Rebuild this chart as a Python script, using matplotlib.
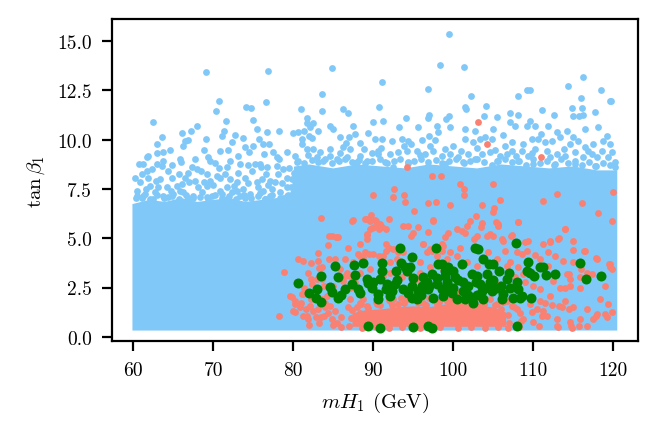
import numpy as np
import matplotlib
matplotlib.use("Agg")
import matplotlib.pyplot as plt

plt.rcParams.update({
    "font.family": "serif",
    "font.serif": ["cmr10", "DejaVu Serif"],
    "mathtext.fontset": "cm",
    "axes.formatter.use_mathtext": True,
    "font.size": 7,
})

BLUE = "#80c8f7"
SALMON = "salmon"
GREEN = "green"

# ---- saturated core of the blue cloud (envelope in data units) ----
blue_core_x = [60.0, 60.0, 62, 64, 66, 68, 70, 72, 74, 76, 78, 79.8, 80.2, 82, 85, 88, 91, 94, 97,
               100, 103, 106, 109, 112, 115, 118, 120.4, 120.4]
blue_core_y = [0.36, 6.7, 6.9, 6.8, 7.0, 6.8, 6.9, 7.0, 6.8, 6.9, 7.0, 7.0, 8.6, 8.7, 8.5, 8.7, 8.6,
               8.5, 8.7, 8.6, 8.5, 8.7, 8.6, 8.5, 8.6, 8.4, 8.4, 0.36]

# ---- sparse blue points (upper part) ----
blue_high = [
    (99.48, 15.34), (69.05, 13.41), (76.87, 13.47), (84.86, 13.62), (98.33, 13.77), (101.31, 13.67),
    (91.15, 12.91), (116.18, 13.16), (114.4, 12.70), (96.85, 12.55), (109.17, 12.50), (109.64, 12.50),
    (118.48, 12.50), (83.59, 12.30), (108.15, 12.20), (102.24, 12.20), (115.93, 12.10), (119.58, 11.98),
    (119.75, 11.94), (70.67, 11.94), (76.57, 11.89), (104.11, 11.69), (90.77, 11.64), (74.15, 11.64),
    (74.66, 11.59), (70.33, 11.44), (81.0, 11.54), (83.59, 11.44), (86.26, 11.54), (86.9, 11.33),
    (101.48, 11.64), (101.65, 11.54), (114.87, 11.59), (116.1, 11.59), (111.04, 11.49), (117.71, 11.38),
    (107.13, 11.33), (103.86, 11.18), (112.57, 11.23), (108.15, 11.23), (114.95, 11.18), (115.72, 11.18),
    (116.18, 11.23), (96.93, 11.23), (96.85, 11.08), (99.48, 11.18), (99.06, 11.03), (81.76, 11.08),
    (71.56, 10.93), (74.96, 10.99), (62.51, 10.88), (81.76, 10.83), (82.52, 10.83), (89.96, 10.88),
    (91.19, 10.93), (94.08, 11.08), (105.43, 11.13), (107.13, 10.88), (109.6, 10.96),
]
blue_band_left = [
    (63.63, 10.16), (66.13, 10.33), (67.21, 10.43), (68.01, 10.71), (69.13, 10.01), (71.30, 10.43),
    (71.09, 10.20), (72.67, 10.25), (73.76, 10.06), (75.51, 10.52), (76.72, 10.38), (78.26, 10.43),
    (75.72, 10.01), (76.21, 9.78), (76.96, 9.78), (80.01, 10.33), (80.55, 10.38), (81.30, 10.43),
    (81.09, 10.01), (81.92, 10.20), (82.30, 10.06), (82.13, 10.62), (83.13, 10.45), (84.59, 10.71),
    (85.0, 10.54), (85.84, 10.11), (87.0, 10.15), (87.71, 10.28), (88.34, 9.81), (89.38, 10.33),
    (90.21, 10.03), (87.51, 10.71),
    (66.46, 9.94), (66.88, 9.98), (66.26, 9.69), (64.59, 9.47), (63.76, 9.35), (62.92, 9.30),
    (61.88, 9.18), (61.67, 9.10), (70.84, 9.44), (71.88, 9.47), (73.96, 9.64), (73.13, 9.18),
    (74.46, 9.37), (76.38, 9.27), (77.42, 9.39), (77.92, 9.10), (79.17, 9.35), (80.21, 9.18),
    (81.05, 9.78), (81.67, 9.52), (82.42, 9.52), (84.59, 9.52), (86.26, 9.61), (87.09, 9.52),
    (88.34, 9.18), (89.80, 9.30), (90.63, 9.27),
    (61.26, 8.79), (60.76, 8.76), (62.92, 8.76), (63.76, 8.93), (63.55, 8.68), (65.84, 9.01),
    (65.92, 8.85), (67.71, 9.03), (69.30, 9.10), (69.59, 8.90), (67.38, 8.63), (68.46, 8.42),
    (69.17, 8.25), (70.76, 8.56), (71.67, 8.63), (72.09, 8.93), (73.34, 8.76), (74.38, 8.69),
    (75.26, 8.76), (75.84, 8.79), (76.67, 8.63), (77.92, 8.68), (78.76, 8.51), (79.46, 8.56),
    (80.42, 8.85), (82.92, 9.10), (83.76, 8.93), (84.59, 9.18), (85.42, 9.01), (86.67, 9.10),
    (87.92, 8.85), (89.17, 8.93),
    (61.05, 8.25), (61.88, 8.08), (61.67, 8.42), (63.34, 8.0), (64.80, 8.08), (65.76, 8.25),
    (66.46, 8.08), (67.0, 7.83), (67.71, 7.92), (70.42, 8.17), (70.84, 8.08), (72.09, 8.0),
    (72.92, 7.83), (73.96, 8.08), (75.42, 7.83), (76.05, 8.0), (76.59, 8.25), (77.71, 7.83),
    (78.13, 8.25), (62.09, 7.66), (63.13, 7.58), (64.17, 7.61), (65.42, 7.66), (69.17, 7.66),
    (70.0, 7.71), (71.67, 7.58), (73.76, 7.49), (75.63, 7.58), (77.30, 7.49), (79.17, 7.58),
    (60.42, 7.41), (60.84, 7.83), (60.2, 8.08), (64.38, 8.42), (67.92, 8.51), (69.59, 7.92),
    (71.46, 8.25), (74.80, 8.42), (77.09, 7.92), (79.17, 8.08), (65.84, 7.41), (68.13, 7.58),
    (72.92, 7.41), (76.26, 7.41),
    (60.42, 7.15), (61.46, 7.24), (62.71, 7.32), (63.76, 7.15), (65.01, 7.24), (66.26, 7.32),
    (67.51, 7.15), (68.55, 7.32), (69.80, 7.15), (71.05, 7.24), (72.30, 7.32), (73.34, 7.15),
    (74.59, 7.24), (75.84, 7.27), (77.09, 7.15), (78.34, 7.32), (79.38, 7.20),
    (61.05, 7.03), (62.51, 7.0), (64.38, 7.08), (66.88, 7.03), (69.17, 7.08), (71.67, 7.0),
    (73.96, 7.03), (76.46, 7.0), (78.76, 7.03),
    (60.3, 7.05), (61.2, 7.15), (62.1, 7.0), (63.0, 7.2), (63.9, 7.05), (64.8, 7.15), (65.7, 7.0),
    (66.6, 7.2), (67.5, 7.05), (68.4, 7.1), (69.3, 7.0), (70.2, 7.2), (71.1, 7.05), (72.0, 7.15),
    (72.9, 7.0), (73.8, 7.2), (74.7, 7.05), (75.6, 7.15), (76.5, 7.0), (77.4, 7.2), (78.3, 7.05),
    (79.2, 7.15), (80.0, 7.3), (79.7, 7.6), (79.9, 8.0), (80.1, 8.3),
    (61.6, 7.5), (62.8, 7.9), (64.7, 7.4), (66.1, 7.75), (68.8, 7.85), (70.9, 7.4), (72.6, 7.65),
    (74.4, 7.8), (76.9, 7.7), (78.6, 7.8), (62.4, 8.5), (66.8, 8.3), (70.2, 8.8), (73.1, 8.3),
    (76.0, 8.6), (78.2, 9.0), (64.9, 8.7), (68.9, 9.5), (72.4, 9.9), (75.0, 9.7), (63.0, 9.8),
]
blue_band_right = [
    (93.21, 10.65), (95.54, 10.65), (98.0, 10.71), (99.59, 10.62), (98.04, 10.37), (101.46, 10.54),
    (102.71, 10.45), (105.0, 10.54), (107.71, 10.71), (109.17, 10.71), (110.21, 10.71), (111.88, 10.71),
    (114.17, 10.45), (116.46, 10.54), (118.13, 10.62),
    (91.04, 10.03), (92.29, 9.94), (93.54, 10.03), (94.38, 9.94), (94.71, 9.78), (96.04, 9.98),
    (97.09, 9.69), (97.71, 9.98), (100.0, 9.69), (101.46, 10.03), (102.5, 9.86), (103.34, 10.03),
    (103.96, 10.11), (104.79, 10.03), (106.46, 9.69), (107.29, 9.86), (108.75, 9.78), (109.79, 10.03),
    (110.63, 10.03), (111.46, 9.86), (112.29, 9.94), (113.34, 10.11), (112.92, 10.37), (114.59, 9.78),
    (115.63, 9.94), (116.46, 9.61), (117.5, 9.78), (118.75, 9.94), (119.59, 9.78),
    (90.63, 9.44), (92.09, 9.27), (93.13, 9.35), (94.17, 9.44), (95.42, 9.44), (96.46, 9.27),
    (97.5, 9.44), (98.54, 9.18), (99.59, 9.27), (100.63, 9.10), (101.88, 9.27), (102.71, 9.01),
    (103.54, 9.27), (104.59, 9.35), (105.84, 9.18), (106.67, 9.27), (107.29, 9.44), (108.54, 9.44),
    (109.38, 9.18), (110.21, 9.52), (111.67, 9.44), (112.92, 9.27), (113.96, 9.18), (115.21, 9.35),
    (116.25, 9.10), (117.29, 9.27), (118.54, 9.44), (119.38, 9.10), (120.21, 8.85),
    (91.46, 8.85), (92.5, 8.59), (94.38, 8.85), (96.88, 8.68), (98.96, 8.76), (101.25, 8.85),
    (105.42, 8.93), (108.13, 8.93), (110.0, 8.76), (112.71, 8.76), (115.21, 8.76), (117.71, 8.68),
    (80.6, 8.9), (81.4, 8.8), (82.3, 8.95), (83.1, 8.85), (84.0, 9.0), (84.8, 8.8), (85.7, 8.9),
    (86.5, 9.0), (87.3, 8.85), (88.2, 8.95), (89.0, 8.8), (89.9, 8.9), (90.8, 9.0), (91.7, 8.8),
    (92.6, 8.9), (93.4, 9.0), (94.3, 8.8), (95.1, 8.9), (96.0, 9.0), (96.9, 8.85), (97.8, 8.95),
    (98.6, 8.8), (99.5, 8.9), (100.4, 9.0), (101.3, 8.8), (102.1, 8.9), (103.0, 9.0), (103.9, 8.85),
    (104.8, 8.7), (105.6, 8.9), (106.5, 9.0), (107.4, 8.85), (108.2, 8.9), (109.1, 8.7), (110.0, 9.0),
    (110.9, 8.8), (111.7, 8.9), (112.6, 8.7), (113.5, 9.0), (114.3, 8.8), (115.2, 8.9), (116.1, 8.7),
    (117.0, 8.85), (117.8, 8.65), (118.7, 8.8), (119.6, 8.7), (120.2, 8.6),
    (81.8, 9.2), (83.4, 9.35), (85.9, 9.3), (88.8, 9.55), (91.0, 9.6), (93.8, 9.7), (95.9, 9.2),
    (99.0, 9.55), (101.0, 9.45), (103.0, 9.6), (105.2, 9.5), (107.9, 9.15), (109.9, 9.3), (112.1, 9.1),
    (113.9, 9.55), (116.9, 9.45), (118.0, 9.1), (119.9, 9.35), (86.6, 9.85), (97.0, 10.2),
    (106.2, 10.25), (111.0, 10.3), (115.0, 10.15), (119.2, 10.2),
]

# ---- dense core of the salmon cloud ----
salmon_core_x = [87.5, 87.5, 89, 91, 93, 95, 97, 99, 101, 103, 105, 106.5, 106.5]
salmon_core_y = [0.55, 1.15, 1.3, 1.35, 1.45, 1.5, 1.45, 1.6, 1.65, 1.55, 1.45, 1.2, 0.55]

salmon_pts = [
    (103.09, 10.88), (104.25, 9.78), (110.92, 9.10), (94.25, 8.59), (97.4, 8.14), (98.5, 8.14),
    (100.9, 7.75), (105.0, 7.75), (101.4, 7.48), (101.4, 7.19), (92.6, 7.5), (92.5, 7.09), (93.9, 7.19),
    (94.0, 6.85), (97.9, 6.85), (96.9, 6.78), (113.0, 7.24), (120.0, 7.37), (105.9, 6.93), (111.25, 6.87),
    (116.05, 6.8), (83.51, 6.05), (90.0, 7.19), (89.67, 6.17), (87.5, 5.92), (89.17, 5.98), (90.21, 5.92),
    (89.8, 5.5), (84.8, 5.1), (85.6, 5.04), (89.26, 5.16), (90.76, 5.67),
    (87.28, 5.89), (88.98, 6.0), (89.62, 5.89), (90.05, 5.55), (90.68, 5.46), (90.9, 5.72), (91.96, 6.0),
    (95.15, 6.39), (97.48, 5.94), (99.61, 6.68), (103.65, 6.68), (105.13, 6.51), (104.92, 6.31),
    (102.8, 6.14), (101.73, 5.63), (101.1, 5.38), (102.58, 4.96), (103.43, 5.55), (104.28, 5.12),
    (105.35, 5.8), (105.56, 5.63), (106.2, 4.87), (107.26, 5.12), (108.11, 5.8), (118.1, 6.27),
    (119.88, 5.89), (113.97, 5.46), (112.15, 4.87), (113.21, 4.99), (114.91, 4.4), (116.4, 4.36),
    (117.88, 3.99), (119.58, 3.52), (119.46, 3.69), (115.97, 3.43), (114.48, 3.18), (113.97, 2.5),
    (118.31, 1.91), (119.8, 1.24), (118.95, 1.15), (117.88, 1.07), (114.48, 1.4), (113.21, 1.57),
    (112.36, 1.61), (111.51, 1.74), (111.08, 1.07), (109.81, 1.24), (110.66, 0.56), (113.0, 0.56),
    (114.7, 0.56), (115.76, 0.56), (84.52, 5.09), (85.37, 5.04), (84.31, 4.67), (83.03, 4.25),
    (80.57, 3.94), (81.25, 3.86), (82.18, 3.74), (83.25, 3.47), (84.52, 3.94), (86.43, 3.94),
    (88.13, 4.19), (88.77, 4.03), (89.41, 4.19), (90.68, 4.08), (91.53, 4.36), (91.96, 4.53),
    (92.81, 4.45), (79.85, 2.0), (80.27, 1.66), (81.12, 2.17), (81.55, 1.4), (82.18, 1.91),
    (83.03, 1.4), (83.88, 1.07), (82.82, 0.98), (81.76, 1.07), (80.27, 1.24), (78.23, 1.07),
    (78.78, 3.3), (80.48, 2.76), (81.33, 2.5), (82.18, 2.93), (83.88, 2.59), (86.43, 3.1),
    (87.71, 2.76), (94.72, 5.12), (96.21, 4.7), (97.06, 4.45), (98.55, 4.36), (95.57, 5.55),
    (93.66, 5.63), (91.53, 5.46), (89.2, 4.96), (88.35, 4.7), (86.86, 4.53),
    (83.13, 3.86), (85.22, 3.94), (81.88, 3.26), (83.55, 3.52), (82.3, 2.67), (80.21, 1.83),
    (80.84, 1.49), (80.01, 1.32), (81.26, 1.07), (81.88, 0.9), (83.46, 1.02), (84.17, 2.08),
    (83.96, 1.74), (86.67, 3.26), (87.09, 3.1), (88.34, 4.11), (89.17, 5.21), (89.59, 5.46),
    (90.34, 5.89), (91.05, 5.55), (91.59, 4.7), (92.51, 4.45), (93.13, 4.28), (93.76, 4.28),
    (94.38, 5.63), (95.01, 5.26), (96.88, 5.34), (96.26, 4.7), (96.67, 4.28), (97.3, 4.36),
    (97.51, 5.89), (98.96, 5.04), (97.92, 4.11), (99.38, 5.29), (98.55, 4.7), (88.96, 4.28),
    (90.0, 4.19), (91.26, 4.11), (92.09, 3.77), (95.84, 3.77), (87.51, 3.77), (86.26, 2.84),
    (82.09, 1.57), (84.59, 1.57), (87.09, 1.91), (88.34, 1.74), (89.17, 1.57), (90.42, 1.66),
    (92.09, 1.83), (93.13, 1.66), (94.17, 1.91), (96.26, 1.74), (97.92, 1.66), (99.17, 1.83),
    (85.01, 2.59), (87.09, 2.5), (88.76, 1.91), (90.21, 2.33), (92.51, 1.91), (93.55, 3.01),
    (95.42, 2.93), (97.09, 3.52), (98.76, 3.43), (91.26, 3.1), (92.09, 3.26), (92.92, 3.94),
    (94.38, 3.26), (95.84, 3.26), (89.59, 3.43), (88.34, 3.26), (85.84, 3.43), (82.92, 2.93),
    (81.26, 2.16), (79.59, 2.08), (83.55, 2.93),
    (102.09, 5.89), (103.55, 5.77), (105.63, 5.72), (108.13, 5.83), (100.42, 5.46), (101.46, 5.29),
    (102.92, 5.12), (104.59, 5.21), (105.01, 5.12), (106.05, 4.96), (107.3, 5.16), (108.96, 4.79),
    (109.38, 4.87), (111.25, 4.7), (112.09, 4.79), (113.13, 4.96), (113.96, 5.46), (115.01, 4.87),
    (98.76, 4.62), (99.59, 4.28), (100.84, 4.53), (104.38, 4.28), (106.46, 4.36), (107.92, 4.28),
    (109.17, 4.36), (108.55, 4.19), (110.21, 4.14), (110.84, 3.94), (111.88, 4.28), (112.71, 4.11),
    (113.76, 3.86), (115.01, 3.77), (116.46, 4.36), (117.92, 3.97), (119.59, 3.69), (119.8, 3.43),
    (111.88, 3.6), (114.17, 3.18), (114.59, 2.93), (115.84, 3.01), (116.67, 3.26), (117.3, 3.18),
    (108.13, 3.52), (108.76, 3.18), (107.09, 3.77), (107.71, 3.01), (108.96, 2.76), (110.01, 2.59),
    (110.84, 2.42), (112.5, 2.84), (113.34, 2.5), (114.59, 2.59), (115.84, 2.5), (112.09, 2.08),
    (113.96, 1.83), (115.01, 1.49), (116.67, 1.4), (117.92, 1.15), (119.17, 0.98), (110.84, 1.83),
    (109.59, 1.66), (111.25, 1.32), (111.67, 1.07), (112.92, 0.9), (114.59, 0.73), (115.84, 0.9),
    (117.51, 0.9), (113.13, 0.52), (114.8, 0.47), (116.67, 0.56), (107.92, 1.4), (108.76, 0.9),
    (110.01, 0.73), (119.38, 1.66), (118.96, 2.59), (113.55, 1.49), (110.42, 1.4),
    (99.17, 3.94), (100.42, 4.11), (101.67, 3.77), (102.92, 3.6), (105.42, 3.94), (106.67, 3.6),
    (99.59, 1.74), (100.84, 1.66), (103.34, 1.57), (105.42, 1.66), (106.67, 1.83), (107.3, 1.57),
    (104.59, 3.01), (105.84, 2.67), (107.71, 2.67), (100.63, 2.25), (102.09, 1.49),
    (86.8, 1.5), (88.5, 1.65), (90.3, 1.75), (92.0, 1.85), (93.5, 1.95), (95.2, 1.9), (97.0, 1.95),
    (98.8, 2.05), (100.2, 2.1), (101.5, 2.0), (103.0, 1.95), (104.6, 1.9), (106.2, 1.75), (107.6, 1.5),
    (108.3, 1.2), (108.5, 0.8), (86.0, 1.0), (85.5, 0.7), (86.0, 0.5), (108.2, 0.5), (85.2, 1.3),
    (84.8, 0.9), (82.5, 1.3), (83.2, 0.7), (84.4, 1.2), (85.0, 0.6), (84.0, 1.5), (82.0, 0.6),
    (81.0, 1.7), (83.6, 1.9), (85.5, 1.9), (84.7, 2.3),
    (87.0, 0.55), (87.2, 0.95), (87.3, 1.35), (88.0, 1.5), (89.4, 1.45), (90.8, 1.6), (92.4, 1.6),
    (93.9, 1.7), (95.6, 1.7), (96.6, 1.6), (98.2, 1.75), (99.6, 1.85), (101.0, 1.8), (102.4, 1.75),
    (103.8, 1.65), (105.2, 1.6), (106.0, 1.4), (106.9, 1.1), (107.0, 0.7), (106.8, 0.45),
    (88.6, 0.45), (90.4, 0.5), (92.0, 0.45), (93.6, 0.5), (95.8, 0.45), (98.4, 0.5), (100.6, 0.45),
    (102.2, 0.5), (104.0, 0.45), (105.6, 0.5), (87.9, 0.8), (88.3, 1.2),
]

green_pts = [
    (80.63, 2.71), (82.01, 2.22), (82.92, 2.45), (82.84, 1.95), (83.42, 1.78), (83.46, 3.06),
    (85.22, 3.57), (85.63, 3.01), (84.59, 2.54), (84.88, 2.28), (85.63, 1.95), (85.92, 2.11),
    (86.46, 2.45), (87.3, 2.67), (87.63, 3.64), (87.76, 3.13), (88.13, 2.42), (88.34, 2.22),
    (88.67, 3.72), (89.17, 2.93), (89.38, 2.71), (89.8, 2.5), (90.0, 2.76), (90.55, 1.91),
    (90.63, 2.16), (91.05, 3.72), (91.09, 3.35), (90.84, 2.93), (91.59, 2.42), (91.67, 2.67),
    (92.09, 2.08), (92.3, 2.33), (92.71, 2.67), (92.84, 3.35), (93.34, 4.53), (93.42, 3.72),
    (93.76, 2.42), (93.96, 3.52), (94.17, 3.35), (94.59, 3.52), (94.88, 4.06), (94.8, 2.59),
    (94.88, 1.95), (95.42, 1.91), (95.63, 2.33), (96.26, 3.01), (96.05, 2.59), (96.67, 2.76),
    (96.88, 2.42), (97.3, 3.18), (97.51, 1.99), (97.84, 4.53), (97.92, 2.67), (98.13, 3.69),
    (98.55, 2.42), (98.76, 2.08), (98.96, 3.1), (99.17, 2.67), (99.38, 3.52), (89.38, 0.56),
    (90.84, 0.47), (95.01, 0.52), (96.88, 0.56), (97.3, 0.47),
    (98.55, 3.69), (98.97, 3.35), (99.17, 2.76), (100.01, 3.35), (100.22, 3.01), (100.01, 2.5),
    (101.05, 3.69), (101.17, 2.76), (101.26, 2.33), (101.46, 1.91), (101.88, 2.59), (102.3, 3.18),
    (102.3, 1.99), (102.51, 1.74), (102.72, 4.53), (103.13, 4.45), (103.0, 3.1), (103.34, 2.67),
    (103.55, 2.33), (103.67, 3.97), (103.76, 1.91), (104.17, 3.18), (104.51, 3.69), (104.59, 2.76),
    (104.8, 2.33), (105.01, 3.69), (105.42, 2.5), (105.76, 3.35), (106.05, 1.91), (106.26, 2.16),
    (106.67, 2.93), (107.01, 3.26), (107.09, 2.5), (107.51, 1.99), (107.8, 4.75), (108.01, 2.76),
    (108.13, 2.42), (108.34, 1.99), (108.59, 2.08), (109.17, 3.35), (109.38, 3.77), (109.59, 3.26),
    (109.67, 1.99), (110.09, 3.1), (110.84, 3.52), (111.25, 3.52), (111.59, 3.13), (112.71, 3.18),
    (115.84, 3.72), (116.59, 2.93), (118.51, 3.06), (108.01, 0.56),
    (93.0, 2.9), (94.3, 2.2), (95.0, 3.0), (96.0, 2.1), (97.0, 2.6), (98.0, 3.0), (99.8, 2.2),
    (100.6, 2.9), (101.8, 2.1), (102.8, 2.8), (104.0, 2.5), (105.0, 2.9), (106.0, 2.6), (100.5, 1.9),
    (103.0, 2.1), (99.0, 2.4),
]

x_ticks = [60, 70, 80, 90, 100, 110, 120]
y_ticks = [0.0, 2.5, 5.0, 7.5, 10.0, 12.5, 15.0]


def xy(pts):
    a = np.array(pts, dtype=float)
    return a[:, 0], a[:, 1]


fig = plt.figure(figsize=(6.57 / 2, 4.35 / 2), dpi=200)
ax = fig.add_axes([0.170, 0.213, 0.8015, 0.741])

s_small = 6.0
s_big = 13.0

ax.fill(blue_core_x, blue_core_y, color=BLUE, lw=0.6, ec=BLUE, zorder=1)
for pts in (blue_high, blue_band_left, blue_band_right):
    bx, by = xy(pts)
    ax.scatter(bx, by, s=s_small, color=BLUE, linewidths=0, zorder=2)

ax.fill(salmon_core_x, salmon_core_y, color=SALMON, lw=0.6, ec=SALMON, zorder=3)
sx, sy = xy(salmon_pts)
ax.scatter(sx, sy, s=s_small, color=SALMON, linewidths=0, zorder=4)

gx, gy = xy(green_pts)
ax.scatter(gx, gy, s=s_big, color=GREEN, linewidths=0, zorder=5)

ax.set_xlim(57.3, 123.13)
ax.set_ylim(-0.23, 16.12)
ax.set_xticks(x_ticks)
ax.set_yticks(y_ticks)
ax.set_xticklabels([str(t) for t in x_ticks])
ax.set_yticklabels([f"{t:.1f}" for t in y_ticks])
ax.tick_params(labelsize=7)
ax.set_xlabel(r"$mH_1$ (GeV)", fontsize=7.5)
ax.set_ylabel(r"$\tan\beta_1$", fontsize=7.5)

fig.savefig("out.png", dpi=200)
